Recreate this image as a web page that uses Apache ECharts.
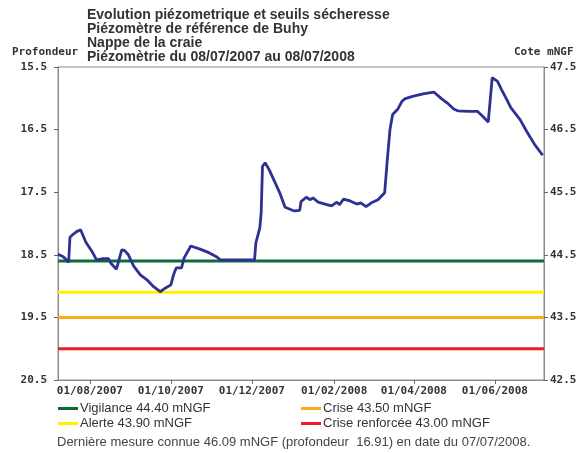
<!DOCTYPE html>
<html>
<head>
<meta charset="utf-8">
<script src="https://cdn.jsdelivr.net/npm/echarts@6/dist/echarts.min.js"></script>
<style>
    html, body { margin: 0; padding: 0; background: #fff; }
    #chart { width: 584px; height: 453px; }
</style>
</head>
<body>
<div id="chart"></div>
<script>
// relevés piézométriques (profondeur en m)
const dates = [
    "2007-07-08", "2007-07-12", "2007-07-16", "2007-07-17", "2007-07-19", "2007-07-22", "2007-07-25", "2007-07-29",
    "2007-08-03", "2007-08-06", "2007-08-11", "2007-08-15", "2007-08-17", "2007-08-21", "2007-08-25", "2007-08-27",
    "2007-08-30", "2007-09-03", "2007-09-08", "2007-09-13", "2007-09-18", "2007-09-23", "2007-09-27", "2007-10-01",
    "2007-10-03", "2007-10-05", "2007-10-09", "2007-10-11", "2007-10-16", "2007-10-23", "2007-10-30", "2007-11-05",
    "2007-11-07", "2007-12-03", "2007-12-04", "2007-12-07", "2007-12-08", "2007-12-09", "2007-12-11", "2007-12-14",
    "2007-12-22", "2007-12-26", "2008-01-02", "2008-01-06", "2008-01-07", "2008-01-11", "2008-01-14", "2008-01-16",
    "2008-01-20", "2008-01-25", "2008-01-30", "2008-02-03", "2008-02-05", "2008-02-08", "2008-02-13", "2008-02-18",
    "2008-02-21", "2008-02-25", "2008-02-29", "2008-03-05", "2008-03-10", "2008-03-12", "2008-03-14", "2008-03-16",
    "2008-03-20", "2008-03-23", "2008-03-25", "2008-03-31", "2008-04-08", "2008-04-16", "2008-04-22", "2008-04-27",
    "2008-05-01", "2008-05-04", "2008-05-12", "2008-05-19", "2008-05-23", "2008-05-27", "2008-05-30", "2008-05-31",
    "2008-06-03", "2008-06-06", "2008-06-10", "2008-06-13", "2008-06-20", "2008-06-25", "2008-07-01", "2008-07-07"
];
const profondeur = [
    18.49, 18.53, 18.62, 18.22, 18.18, 18.13, 18.10, 18.30,
    18.46, 18.58, 18.56, 18.56, 18.64, 18.73, 18.42, 18.43,
    18.50, 18.68, 18.82, 18.90, 19.01, 19.09, 19.03, 18.98,
    18.82, 18.71, 18.71, 18.55, 18.36, 18.41, 18.47, 18.54,
    18.58, 18.58, 18.31, 18.07, 17.83, 17.09, 17.03, 17.14,
    17.51, 17.74, 17.80, 17.79, 17.65, 17.58, 17.62, 17.59,
    17.66, 17.69, 17.72, 17.66, 17.70, 17.61, 17.64, 17.69,
    17.67, 17.73, 17.67, 17.62, 17.51, 16.98, 16.50, 16.26,
    16.17, 16.05, 16.01, 15.97, 15.93, 15.90, 16.01, 16.09,
    16.17, 16.20, 16.21, 16.21, 16.29, 16.38, 15.67, 15.64,
    15.73, 15.86, 16.02, 16.15, 16.34, 16.53, 16.74, 16.91
];

// seuils sécheresse (mNGF)
const seuilNoms = ["Vigilance 44.40 mNGF", "Alerte 43.90 mNGF", "Crise 43.50 mNGF", "Crise renforcée 43.00 mNGF"];
const seuilValeurs = [44.40, 43.90, 43.50, 43.00];
const seuilCouleurs = ["#0b6b3a", "#fff200", "#fbaa1c", "#ed1c24"];

// axes
const dateDebut = "2007-07-08";
const dateFin = "2008-07-08";
const xTicks = ["2007-08-01", "2007-10-01", "2007-12-01", "2008-02-01", "2008-04-01", "2008-06-01"];
const profTicks = [15.5, 16.5, 17.5, 18.5, 19.5, 20.5];
const coteTicks = [42.5, 43.5, 44.5, 45.5, 46.5, 47.5];

const monoFont = "'DejaVu Sans Mono', monospace";
const sansFont = "'Liberation Sans', Arial, sans-serif";

const toTime = (d) => new Date(d + "T00:00:00").getTime();
const pad = (n) => (n < 10 ? "0" + n : "" + n);

let chart = echarts.init(document.getElementById("chart"));

let seuilSeries = seuilNoms.map((nom, i) => ({
    name: nom,
    type: "line",
    yAxisIndex: 1,
    symbol: "none",
    silent: true,
    color: seuilCouleurs[i],
    lineStyle: { width: 3, color: seuilCouleurs[i] },
    data: [[toTime(dateDebut), seuilValeurs[i]], [toTime(dateFin), seuilValeurs[i]]],
}));

let legendText = { fontFamily: sansFont, fontSize: 13, color: "#333", lineHeight: 15, padding: [0, 0, 0, -3] };
let monoLabel = { fontFamily: monoFont, fontSize: 11, fontWeight: "bold", color: "#333" };

let option = {
    animation: false,
    title: [
        {
            text: "Evolution piézometrique et seuils sécheresse\nPiézomètre de référence de Buhy\nNappe de la craie\nPiézomètrie du 08/07/2007 au 08/07/2008",
            left: 87,
            top: 8,
            padding: 0,
            textStyle: { fontFamily: sansFont, fontSize: 14, fontWeight: "bold", color: "#333", lineHeight: 14 },
        },
        {
            text: "Profondeur",
            left: 12,
            top: 47,
            padding: 0,
            textStyle: monoLabel,
        },
        {
            text: "Cote mNGF",
            left: 514,
            top: 47,
            padding: 0,
            textStyle: monoLabel,
        },
        {
            text: "Dernière mesure connue 46.09 mNGF (profondeur  16.91) en date du 07/07/2008.",
            left: 57,
            top: 436,
            padding: 0,
            textStyle: { fontFamily: sansFont, fontSize: 13, fontWeight: "normal", color: "#444" },
        },
    ],
    legend: [
        {
            data: [seuilNoms[0], seuilNoms[1]],
            orient: "vertical",
            left: 58,
            top: 401,
            padding: 0,
            itemGap: 0,
            icon: "rect",
            itemWidth: 20,
            itemHeight: 3,
            selectedMode: false,
            textStyle: legendText,
        },
        {
            data: [seuilNoms[2], seuilNoms[3]],
            orient: "vertical",
            left: 301,
            top: 401,
            padding: 0,
            itemGap: 0,
            icon: "rect",
            itemWidth: 20,
            itemHeight: 3,
            selectedMode: false,
            textStyle: legendText,
        },
    ],
    grid: {
        left: 58,
        right: 40,
        top: 67,
        bottom: 73,
        show: true,
        borderColor: "#8c8c8c",
        borderWidth: 1,
    },
    // axe des dates en valeur (timestamps) pour placer les graduations au 1er du mois
    xAxis: {
        type: "value",
        min: toTime(dateDebut),
        max: toTime(dateFin),
        axisLine: { lineStyle: { color: "#8c8c8c" } },
        axisTick: { show: true, length: 4, lineStyle: { color: "#666" }, customValues: xTicks.map(toTime) },
        splitLine: { show: false },
        axisLabel: Object.assign({
            customValues: xTicks.map(toTime),
            margin: 6,
            formatter: (v) => {
                let d = new Date(v);
                return pad(d.getDate()) + "/" + pad(d.getMonth() + 1) + "/" + d.getFullYear();
            },
        }, monoLabel),
    },
    yAxis: [
        {
            type: "value",
            inverse: true,
            min: 15.5,
            max: 20.5,
            position: "left",
            axisLine: { show: true, lineStyle: { color: "#8c8c8c" } },
            axisTick: { show: true, length: 4, lineStyle: { color: "#666" }, customValues: profTicks },
            splitLine: { show: false },
            axisLabel: Object.assign({
                customValues: profTicks,
                margin: 11,
                formatter: (v) => v.toFixed(1),
            }, monoLabel),
        },
        {
            type: "value",
            min: 42.5,
            max: 47.5,
            position: "right",
            axisLine: { show: true, lineStyle: { color: "#8c8c8c" } },
            axisTick: { show: true, length: 4, lineStyle: { color: "#666" }, customValues: coteTicks },
            splitLine: { show: false },
            axisLabel: Object.assign({
                customValues: coteTicks,
                margin: 6,
                formatter: (v) => v.toFixed(1),
            }, monoLabel),
        },
    ],
    series: seuilSeries.concat([
        {
            name: "Profondeur",
            type: "line",
            yAxisIndex: 0,
            symbol: "none",
            silent: true,
            z: 5,
            color: "#2e3192",
            lineStyle: { width: 2.8, color: "#2e3192" },
            data: dates.map((d, i) => [toTime(d), profondeur[i]]),
        },
    ]),
};

chart.setOption(option);
</script>
</body>
</html>
